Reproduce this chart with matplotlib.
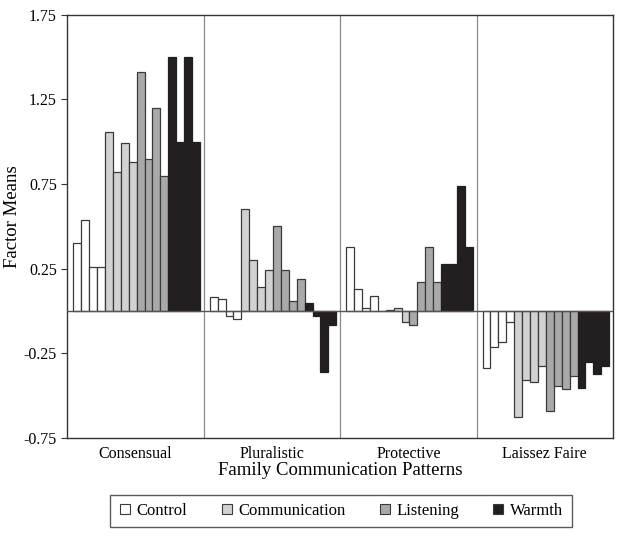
import matplotlib
matplotlib.use("Agg")
import matplotlib.pyplot as plt
from matplotlib.lines import Line2D
import numpy as np

plt.rcParams['font.family'] = ['Liberation Serif', 'DejaVu Serif']

groups = ["Consensual", "Pluralistic", "Protective", "Laissez Faire"]
series = ["Control", "Communication", "Listening", "Warmth"]

control = [
    [0.40, 0.54, 0.26, 0.26],
    [0.08, 0.07, -0.03, -0.05],
    [0.38, 0.13, 0.016, 0.09],
    [-0.335, -0.215, -0.185, -0.063],
]
communication = [
    [1.06, 0.82, 0.99, 0.88],
    [0.60, 0.30, 0.14, 0.245],
    [0.0, 0.004, 0.015, -0.065],
    [-0.625, -0.41, -0.42, -0.325],
]
listening = [
    [1.41, 0.90, 1.20, 0.80],
    [0.50, 0.24, 0.06, 0.19],
    [-0.085, 0.17, 0.38, 0.17],
    [-0.59, -0.445, -0.46, -0.385],
]
warmth = [
    [1.50, 1.00, 1.50, 1.00],
    [0.05, -0.03, -0.36, -0.085],
    [0.28, 0.28, 0.74, 0.38],
    [-0.455, -0.30, -0.37, -0.325],
]
yticks = [-0.75, -0.25, 0.25, 0.75, 1.25, 1.75]

fills = ["#ffffff", "#d2d2d2", "#a9a9a9", "#231f20"]
edges = ["#3a3a3a", "#3a3a3a", "#3a3a3a", "#231f20"]

fig = plt.figure(figsize=(6.22, 5.37), dpi=100)
ax = fig.add_axes([0.1082, 0.1845, 0.8773, 0.7878])

margin = 0.044
bw = 0.058
all_series = [control, communication, listening, warmth]
for gi in range(len(groups)):
    for si, data in enumerate(all_series):
        vals = data[gi]
        for k, v in enumerate(vals):
            x = gi + margin + (si * 4 + k) * bw
            ax.bar(x, v, width=bw, align='edge', color=fills[si],
                   edgecolor=edges[si], linewidth=0.9, zorder=2)

ax.set_xlim(0, 4)
ax.set_ylim(-0.75, 1.75)
ax.set_yticks(yticks)
ax.set_yticklabels([f"{t:.2f}" for t in yticks], fontsize=11.5)
ax.set_xticks([0.5, 1.5, 2.5, 3.5])
ax.set_xticklabels(groups, fontsize=11.5)
ax.tick_params(axis='x', length=0, pad=6)
ax.tick_params(axis='y', length=4, direction='out', color='#333333')
for x in [1, 2, 3]:
    ax.axvline(x, color='#8a8a8a', linewidth=0.9, zorder=1)
ax.axhline(0, color='#555555', linewidth=1.0, zorder=3)
for s in ax.spines.values():
    s.set_color('#333333')
    s.set_linewidth(1.0)

ax.set_ylabel("Factor Means", fontsize=13.5)
ax.yaxis.set_label_coords(-0.085, 0.522)
ax.set_xlabel("Family Communication Patterns", fontsize=13.5, labelpad=0)

handles = [Line2D([], [], marker='s', linestyle='none', markersize=6.5,
                  markerfacecolor=fills[i], markeredgecolor='#3a3a3a',
                  markeredgewidth=0.8) for i in range(4)]
leg = fig.legend(handles, series, loc='center', bbox_to_anchor=(0.548, 0.0484),
                 ncol=4, fontsize=12, frameon=True, fancybox=False,
                 handlelength=0.8, handletextpad=0.3, columnspacing=1.95,
                 borderpad=0.5)
leg.get_frame().set_edgecolor('#333333')
leg.get_frame().set_linewidth(1.0)

fig.savefig("out.png", dpi=100)
